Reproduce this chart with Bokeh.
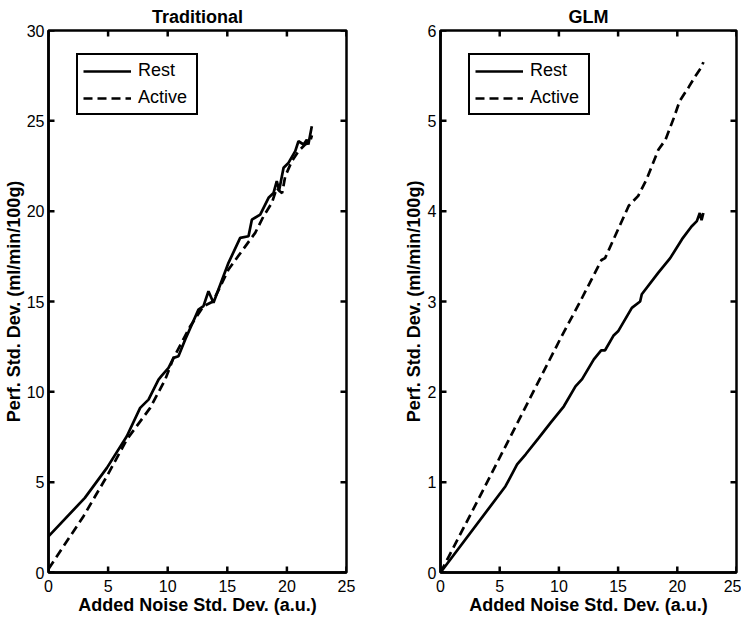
from bokeh.plotting import figure
from bokeh.layouts import row
from bokeh.models import Legend, LegendItem, FixedTicker, Range1d
from bokeh.embed import file_html
from bokeh.resources import INLINE

# ---- data ----
x_ticks = [0, 5, 10, 15, 20, 25]
trad_y_ticks = [0, 5, 10, 15, 20, 25, 30]
glm_y_ticks = [0, 1, 2, 3, 4, 5, 6]

trad_rest_x = [0, 3.05, 4.9, 6.57, 7.69, 8.39, 9.23, 9.5, 10.07, 10.49, 10.9, 11.47, 12.58, 13.0,
               13.42, 13.84, 15.1, 16.08, 16.78, 17.06, 17.76, 18.46, 18.88, 19.15, 19.35, 19.72,
               20.13, 20.7, 20.97, 21.4, 21.67, 21.8, 22.09]
trad_rest_y = [2.0, 4.13, 5.79, 7.54, 9.11, 9.57, 10.68, 10.9, 11.33, 11.88, 11.97, 12.9, 14.55, 14.74,
               15.57, 14.93, 17.14, 18.52, 18.61, 19.53, 19.81, 20.74, 21.01, 21.66, 21.16, 22.4,
               22.67, 23.32, 23.87, 23.69, 23.96, 23.69, 24.7]

trad_active_x = [0, 2.94, 4.9, 6.57, 8.53, 9.79, 10.49, 11.89, 13.0, 13.8, 15.1, 15.8, 17.34, 18.04,
                 18.74, 19.15, 19.4, 19.6, 19.86, 20.41, 20.97, 21.53, 21.95, 22.1]
trad_active_y = [0.2, 3.12, 5.33, 7.36, 9.11, 10.68, 11.88, 13.63, 14.74, 15.0, 16.77, 17.41, 18.8, 19.72,
                 20.46, 21.29, 21.1, 21.0, 21.93, 22.76, 23.32, 23.69, 23.87, 24.2]

glm_rest_x = [0, 5.49, 6.47, 7.18, 8.3, 9.29, 10.42, 11.4, 11.96, 12.95, 13.57, 13.9, 14.6, 15.0,
              16.16, 16.86, 17.0, 18.4, 19.4, 20.4, 21.2, 21.65, 21.9, 22.05, 22.2]
glm_rest_y = [0, 0.955, 1.196, 1.306, 1.49, 1.657, 1.84, 2.06, 2.14, 2.36, 2.46, 2.46, 2.62, 2.67,
              2.93, 3.0, 3.08, 3.32, 3.48, 3.69, 3.83, 3.89, 3.98, 3.9, 3.98]

glm_active_x = [0, 3.63, 10.25, 11.8, 13.6, 13.9, 15.9, 16.7, 17.4, 18.4, 19.0, 19.7, 20.2, 20.95,
                21.5, 22.07, 22.2]
glm_active_y = [0, 0.92, 2.62, 3.0, 3.46, 3.48, 4.06, 4.17, 4.35, 4.68, 4.79, 5.03, 5.22, 5.37,
                5.49, 5.6, 5.65]

FONT = "Liberation Sans"
XMAX = 25
FRAME_H = 542
TICK_PX = 6


def style_axis(ax):
    ax.axis_line_color = "black"
    ax.axis_line_width = 2.5
    ax.major_tick_line_color = None
    ax.major_tick_in = 0
    ax.major_tick_out = 0
    ax.minor_tick_line_color = None
    ax.major_label_text_font = FONT
    ax.major_label_text_color = "black"
    ax.major_label_text_font_size = "16px"
    ax.axis_label_text_font = FONT
    ax.axis_label_text_font_size = "18px"
    ax.axis_label_text_font_style = "bold"
    ax.axis_label_text_color = "black"


def make(title, ymax, yticks, rx, ry, ax_, ay_, frame_w, mbl, mbr, ylab_standoff):
    p = figure(frame_width=frame_w, frame_height=FRAME_H,
               x_range=Range1d(0, XMAX), y_range=Range1d(0, ymax),
               output_backend="svg", toolbar_location=None,
               min_border_left=mbl, min_border_right=mbr, min_border_top=29, min_border_bottom=40)
    p.title.text = title
    p.title.text_font = FONT
    p.title.text_font_size = "18px"
    p.title.text_font_style = "bold"
    p.title.text_color = "black"
    p.title.align = "center"
    p.title.standoff = 8
    p.xgrid.visible = False
    p.ygrid.visible = False
    p.outline_line_color = "black"
    p.outline_line_width = 2.5
    p.outline_line_alpha = 1.0

    p.xaxis.ticker = FixedTicker(ticks=x_ticks)
    p.yaxis.ticker = FixedTicker(ticks=yticks)
    style_axis(p.xaxis[0])
    style_axis(p.yaxis[0])
    p.xaxis.major_label_standoff = 7
    p.yaxis.major_label_standoff = 4
    p.xaxis.axis_label = "Added Noise Std. Dev. (a.u.)"
    p.yaxis.axis_label = "Perf. Std. Dev. (ml/min/100g)"
    p.xaxis.axis_label_standoff = 0
    p.yaxis.axis_label_standoff = ylab_standoff

    # inward tick marks on all four sides (MATLAB box style)
    dx = TICK_PX * XMAX / frame_w
    dy = TICK_PX * ymax / FRAME_H
    nx, ny = len(x_ticks), len(yticks)
    tk = dict(line_color="black", line_width=2.5)
    p.segment(x0=x_ticks, y0=[0] * nx, x1=x_ticks, y1=[dy] * nx, **tk)
    p.segment(x0=x_ticks, y0=[ymax] * nx, x1=x_ticks, y1=[ymax - dy] * nx, **tk)
    p.segment(x0=[0] * ny, y0=yticks, x1=[dx] * ny, y1=yticks, **tk)
    p.segment(x0=[XMAX] * ny, y0=yticks, x1=[XMAX - dx] * ny, y1=yticks, **tk)

    r1 = p.line(rx, ry, line_color="black", line_width=2.7)
    r2 = p.line(ax_, ay_, line_color="black", line_width=2.7, line_dash="9 5")

    leg = Legend(items=[LegendItem(label="Rest", renderers=[r1]),
                        LegendItem(label="Active", renderers=[r2])],
                 location=(28, 457))
    leg.label_text_font = FONT
    leg.label_text_font_size = "18px"
    leg.label_text_color = "black"
    leg.glyph_width = 48
    leg.glyph_height = 16
    leg.label_height = 16
    leg.label_width = 53
    leg.label_standoff = 7
    leg.spacing = 6
    leg.padding = 5
    leg.margin = 0
    leg.border_line_color = "black"
    leg.border_line_alpha = 1.0
    leg.border_line_width = 2.5
    leg.background_fill_color = "white"
    leg.background_fill_alpha = 1.0
    p.add_layout(leg)
    return p


p1 = make("Traditional", 30, trad_y_ticks, trad_rest_x, trad_rest_y, trad_active_x, trad_active_y,
          298, 42, 27, 0)
p2 = make("GLM", 6, glm_y_ticks, glm_rest_x, glm_rest_y, glm_active_x, glm_active_y,
          296, 67, 5, 1)

layout = row(p1, p2)
open("out.html", "w").write(file_html(layout, INLINE))
